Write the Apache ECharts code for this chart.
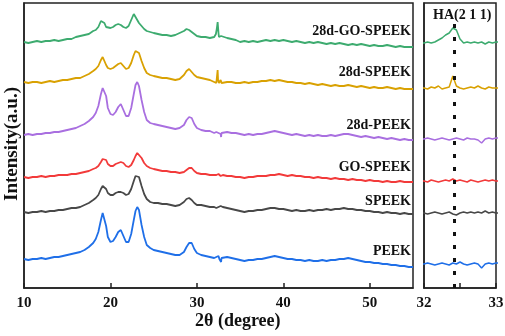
<!DOCTYPE html>
<html>
<head>
<meta charset="utf-8">
<script src="https://cdn.jsdelivr.net/npm/echarts@6/dist/echarts.min.js"></script>
<style>
  html, body { margin: 0; padding: 0; background: #fff; }
  #chart { width: 505px; height: 336px; }
</style>
</head>
<body>
<div id="chart"></div>
<script>
// 2θ positions (degree), shared by every pattern
var twoTheta = [
  10, 10.5, 11, 11.5, 12, 12.5, 13, 13.5, 14, 14.5, 15, 15.5, 16, 16.5, 17, 17.5, 18,
  18.3, 18.6, 18.9, 19.1, 19.3, 19.5, 19.7, 20, 20.3, 20.6, 20.9, 21.2, 21.5, 21.8, 22.1, 22.4, 22.7, 22.9, 23.1, 23.3, 23.6, 23.9, 24.2, 24.6, 25,
  25.5, 26, 26.5, 27, 27.5, 28, 28.5, 28.8, 29.1, 29.4, 29.7, 30, 30.5, 31, 31.5,
  32, 32.05, 32.1, 32.15, 32.2, 32.25, 32.3, 32.35, 32.4, 32.45, 32.5, 32.55, 32.6, 32.65, 32.7, 32.75, 32.8, 32.85, 32.9, 32.95, 33,
  33.5, 34, 34.5, 35, 35.5, 36, 36.5, 37, 37.5, 38, 38.5, 39, 39.5, 40, 40.5, 41, 41.5, 42, 42.5, 43,
  43.5, 44, 44.5, 45, 45.5, 46, 46.5, 47, 47.5, 48, 48.5, 49, 49.5, 50, 50.5, 51, 51.5, 52, 52.5, 53,
  53.5, 54, 54.5, 55
];

// intensities (a.u.), already stacked with their vertical offsets
var d28GoSpeek = [
  246, 245, 246, 247, 246, 247, 247, 248, 247, 248, 249, 249, 251, 252, 253, 254, 257,
  258, 261, 267, 269, 265, 261, 260, 260, 261, 263, 264, 263, 261, 260, 262, 268, 274, 272, 268, 265, 262, 259, 257, 256, 255,
  254, 253, 253, 252, 253, 255, 257, 259, 258, 256, 254, 252, 251, 251, 250,
  251, 252, 251, 252, 254, 256, 259, 261, 266, 264, 255, 251, 252, 251, 252, 251, 252, 250, 252, 251, 252,
  250, 249, 248, 246, 247, 246, 247, 246, 247, 248, 247, 248, 247, 248, 247, 246, 247, 246, 245, 246,
  245, 246, 245, 244, 245, 244, 245, 244, 243, 244, 243, 244, 243, 242, 243, 242, 242, 243, 242, 241,
  242, 241, 241, 241
];
var d28Speek = [
  206, 205, 206, 206, 205, 206, 207, 206, 207, 208, 208, 209, 210, 210, 212, 214, 217,
  219, 222, 228, 231, 229, 223, 220, 219, 220, 222, 224, 225, 222, 219, 220, 225, 233, 237, 239, 235, 227, 220, 215, 213, 212,
  211, 210, 210, 209, 208, 209, 213, 217, 219, 216, 213, 211, 210, 209, 208,
  206, 205, 207, 206, 208, 205, 206, 207, 218, 208, 206, 205, 206, 207, 206, 208, 206, 205, 207, 206, 206,
  206, 206, 205, 205, 206, 205, 206, 206, 207, 207, 208, 207, 208, 207, 206, 206, 205, 205, 204, 205,
  204, 203, 204, 203, 202, 203, 202, 202, 203, 202, 201, 202, 201, 200, 201, 200, 200, 201, 200, 199,
  200, 199, 199, 199
];
var d28Peek = [
  153, 154, 153, 154, 154, 155, 155, 156, 156, 157, 158, 159, 160, 162, 164, 167, 171,
  175, 182, 194, 200, 201, 192, 180, 174, 173, 176, 181, 184, 178, 172, 172, 180, 194, 203, 206, 202, 188, 176, 168, 165, 164,
  163, 162, 161, 160, 159, 160, 163, 168, 171, 170, 164, 160, 158, 157, 157,
  155, 156, 155, 154, 155, 156, 155, 154, 155, 156, 155, 154, 156, 155, 155, 154, 151, 155, 156, 155, 156,
  156, 155, 155, 154, 153, 154, 153, 154, 154, 155, 156, 157, 156, 155, 154, 153, 154, 153, 152, 153,
  152, 153, 152, 152, 153, 152, 153, 154, 154, 153, 152, 151, 152, 151, 150, 151, 150, 149, 150, 149,
  148, 149, 148, 148
];
var goSpeek = [
  111, 110, 111, 111, 112, 111, 112, 112, 113, 113, 113, 114, 114, 115, 116, 117, 119,
  120, 122, 126, 129, 130, 128, 124, 122, 122, 124, 125, 126, 125, 122, 121, 123, 128, 132, 135, 135, 130, 125, 122, 120, 119,
  118, 117, 117, 116, 116, 115, 116, 118, 120, 120, 117, 115, 114, 114, 113,
  113, 112, 114, 113, 112, 113, 114, 113, 115, 113, 114, 113, 112, 114, 113, 112, 113, 114, 113, 114, 113,
  112, 112, 111, 111, 110, 111, 111, 112, 112, 112, 113, 113, 114, 113, 112, 113, 112, 112, 111, 111,
  110, 111, 110, 110, 109, 110, 109, 109, 108, 109, 108, 108, 107, 108, 107, 107, 106, 107, 106, 106,
  107, 106, 106, 106
];
var speek = [
  76, 75, 76, 76, 77, 76, 77, 77, 78, 78, 79, 80, 80, 81, 83, 85, 88,
  90, 93, 99, 102, 103, 99, 95, 93, 93, 95, 96, 96, 95, 93, 94, 99, 107, 112, 114, 111, 102, 94, 89, 86, 85,
  85, 84, 84, 83, 82, 83, 86, 89, 90, 88, 85, 83, 83, 82, 81,
  81, 80, 81, 82, 81, 80, 81, 82, 80, 79, 81, 82, 81, 82, 81, 82, 81, 83, 81, 82, 81,
  80, 79, 78, 77, 76, 77, 77, 78, 78, 79, 80, 80, 79, 79, 78, 77, 78, 77, 77, 78,
  77, 78, 78, 79, 78, 79, 79, 80, 79, 79, 78, 78, 77, 77, 76, 76, 75, 76, 75, 75,
  74, 75, 74, 74
];
var peek = [
  29, 28, 29, 29, 30, 29, 30, 31, 31, 32, 33, 34, 35, 36, 38, 41, 45,
  49, 56, 68, 75, 74, 62, 51, 46, 47, 51, 56, 58, 52, 46, 46, 54, 68, 77, 81, 78, 63, 51, 43, 40, 38,
  37, 36, 35, 34, 33, 33, 36, 41, 45, 45, 39, 35, 33, 32, 31,
  30, 31, 30, 29, 30, 31, 30, 29, 31, 30, 32, 30, 29, 30, 31, 30, 26, 30, 31, 30, 31,
  31, 30, 29, 28, 27, 28, 28, 29, 29, 30, 31, 32, 31, 30, 29, 29, 28, 28, 27, 28,
  27, 27, 28, 27, 28, 28, 29, 29, 30, 29, 28, 27, 26, 26, 25, 25, 24, 24, 23, 23,
  22, 22, 21, 21
];

var seriesNames = ['28d-GO-SPEEK', '28d-SPEEK', '28d-PEEK', 'GO-SPEEK', 'SPEEK', 'PEEK'];
var seriesValues = [d28GoSpeek, d28Speek, d28Peek, goSpeek, speek, peek];
var seriesColors = ['#3dab6f', '#d9a102', '#a96fe0', '#f23a3a', '#484848', '#1f6fe8'];
// label anchor (y pixel) next to each pattern
var labelTops = [32, 73, 126, 168, 202, 252];

var haPeak = 32.42;   // HA (2 1 1) reflection
var haSpan = [6, 270];

var font = "'Liberation Serif', 'Times New Roman', serif";

var chart = echarts.init(document.getElementById('chart'));

function pairs(values) {
  return twoTheta.map(function (t, i) { return [t, values[i]]; });
}

var series = [];
seriesNames.forEach(function (name, k) {
  series.push({
    name: name, type: 'line', xAxisIndex: 0, yAxisIndex: 0,
    data: pairs(seriesValues[k]), showSymbol: false, silent: true,
    lineStyle: { color: seriesColors[k], width: 1.8 }
  });
  series.push({
    name: name + '-zoom', type: 'line', xAxisIndex: 1, yAxisIndex: 1,
    data: pairs(seriesValues[k]), showSymbol: false, silent: true,
    lineStyle: { color: seriesColors[k], width: 1.5 }
  });
});
series[1].markLine = {
  silent: true, symbol: 'none', label: { show: false },
  lineStyle: { color: '#111', width: 3, type: [4, 9] },
  data: [[{ coord: [haPeak, haSpan[0]] }, { coord: [haPeak, haSpan[1]] }]]
};

var graphics = seriesNames.map(function (name, k) {
  return {
    type: 'text', right: 94, top: labelTops[k] - 8,
    style: { text: name, font: 'bold 14px ' + font, fill: '#111' }
  };
});
graphics.push({
  type: 'text', left: 433, top: 8,
  style: { text: 'HA(2 1 1)', font: 'bold 14px ' + font, fill: '#111' }
});
graphics.push({
  type: 'text', left: 195, top: 312,
  style: { text: '2θ (degree)', font: 'bold 18px ' + font, fill: '#111' }
});
graphics.push({
  type: 'text', x: 12, y: 144, rotation: Math.PI / 2,
  style: {
    text: 'Intensity(a.u.)', font: 'bold 19px ' + font, fill: '#111',
    textAlign: 'center', textVerticalAlign: 'middle'
  }
});

var axisLabel = { color: '#111', fontFamily: font, fontWeight: 'bold', fontSize: 15, margin: 8 };
var axisLine = { show: true, lineStyle: { color: '#222', width: 1.5 } };

chart.setOption({
  animation: false,
  grid: [
    { left: 24, top: 3, width: 389, height: 285, show: true, borderColor: '#222', borderWidth: 1.5, outerBoundsMode: 'none', containLabel: false },
    { left: 424, top: 3, width: 72, height: 285, show: true, borderColor: '#222', borderWidth: 1.5, outerBoundsMode: 'none', containLabel: false }
  ],
  xAxis: [
    {
      type: 'value', gridIndex: 0, min: 10, max: 55, interval: 10,
      axisLine: axisLine, splitLine: { show: false },
      axisTick: { inside: true, length: 5, lineStyle: { color: '#222', width: 1.5 } },
      axisLabel: Object.assign({}, axisLabel, { showMaxLabel: false })
    },
    {
      type: 'value', gridIndex: 1, min: 32, max: 33, interval: 0.5,
      axisLine: axisLine, splitLine: { show: false },
      axisTick: { inside: true, length: 5, lineStyle: { color: '#222', width: 1.5 } },
      axisLabel: Object.assign({}, axisLabel, {
        formatter: function (v) { return v % 1 === 0 ? String(v) : ''; }
      })
    }
  ],
  yAxis: [
    {
      type: 'value', gridIndex: 0, min: 0, max: 285,
      axisLine: axisLine, axisTick: { show: false }, axisLabel: { show: false }, splitLine: { show: false }
    },
    {
      type: 'value', gridIndex: 1, min: 6, max: 291,
      axisLine: axisLine, axisTick: { show: false }, axisLabel: { show: false }, splitLine: { show: false }
    }
  ],
  graphic: graphics,
  series: series
});
</script>
</body>
</html>
